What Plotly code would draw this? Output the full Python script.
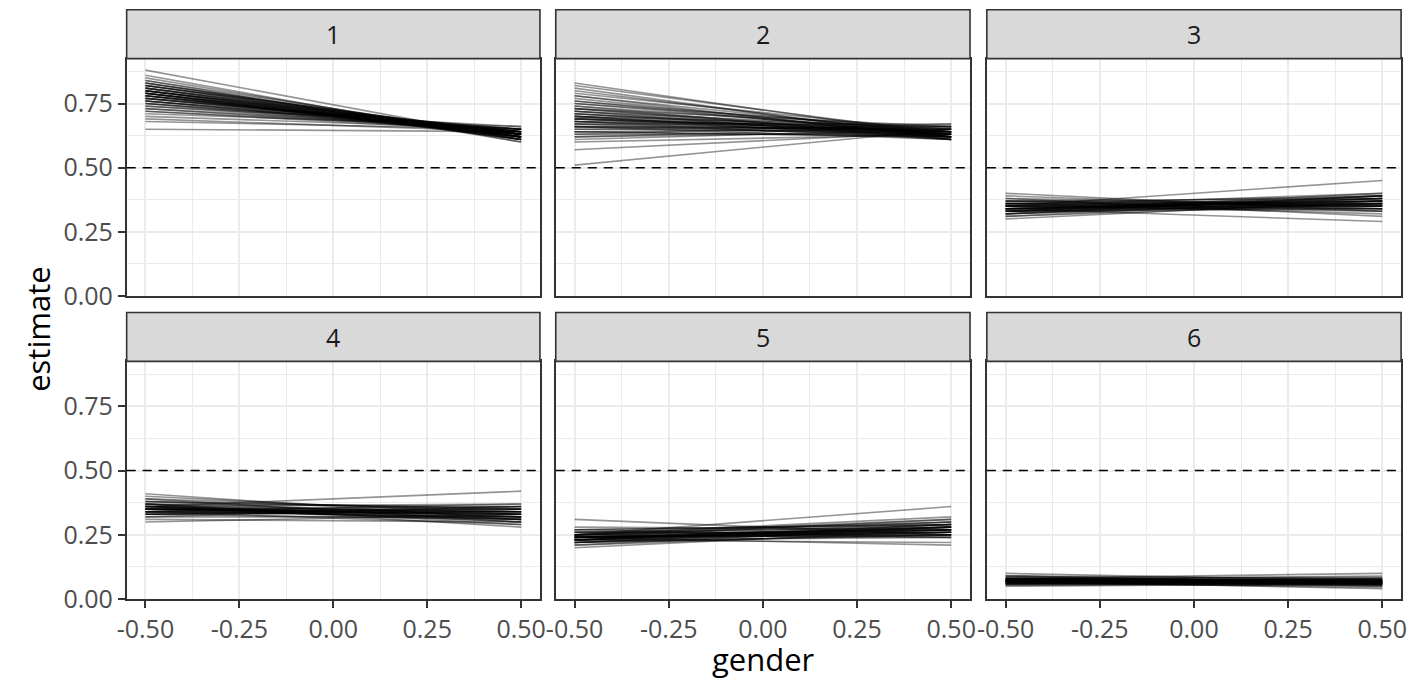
import plotly.graph_objects as go

# Posterior draws of the estimate at gender = -0.5 and gender = 0.5, one list per facet
gender_ends = [-0.5, 0.5]

p1_start = [0.88, 0.86, 0.85, 0.84, 0.84, 0.83, 0.83, 0.82, 0.82, 0.82, 0.81, 0.81, 0.81, 0.80, 0.80,
            0.80, 0.80, 0.79, 0.79, 0.79, 0.79, 0.78, 0.78, 0.78, 0.78, 0.77, 0.77, 0.77, 0.76, 0.76,
            0.76, 0.75, 0.75, 0.75, 0.74, 0.74, 0.73, 0.73, 0.72, 0.72, 0.71, 0.70, 0.69, 0.68, 0.65,
            0.80, 0.79, 0.77, 0.81, 0.78, 0.82, 0.79, 0.80, 0.76, 0.83]
p1_end = [0.61, 0.60, 0.61, 0.60, 0.62, 0.61, 0.62, 0.61, 0.62, 0.63, 0.61, 0.62, 0.63, 0.62, 0.63,
          0.61, 0.64, 0.62, 0.63, 0.64, 0.62, 0.63, 0.64, 0.62, 0.63, 0.64, 0.63, 0.65, 0.63, 0.64,
          0.65, 0.64, 0.63, 0.65, 0.64, 0.66, 0.64, 0.65, 0.65, 0.64, 0.66, 0.65, 0.64, 0.65, 0.64,
          0.63, 0.62, 0.64, 0.63, 0.62, 0.63, 0.61, 0.62, 0.63, 0.62]

p2_start = [0.83, 0.82, 0.81, 0.80, 0.79, 0.78, 0.78, 0.77, 0.76, 0.76, 0.75, 0.75, 0.74, 0.74, 0.73,
            0.73, 0.72, 0.72, 0.72, 0.71, 0.71, 0.70, 0.70, 0.70, 0.69, 0.69, 0.69, 0.68, 0.68, 0.68,
            0.67, 0.67, 0.67, 0.66, 0.66, 0.66, 0.65, 0.65, 0.64, 0.64, 0.63, 0.63, 0.62, 0.62, 0.61,
            0.60, 0.57, 0.51, 0.71, 0.68, 0.70, 0.66, 0.73, 0.69, 0.64]
p2_end = [0.62, 0.63, 0.61, 0.62, 0.64, 0.61, 0.63, 0.62, 0.64, 0.62, 0.63, 0.65, 0.61, 0.64, 0.62,
          0.66, 0.63, 0.65, 0.61, 0.64, 0.62, 0.63, 0.66, 0.61, 0.64, 0.62, 0.65, 0.63, 0.61, 0.66,
          0.64, 0.62, 0.67, 0.63, 0.65, 0.61, 0.64, 0.66, 0.62, 0.65, 0.63, 0.67, 0.64, 0.66, 0.65,
          0.63, 0.64, 0.65, 0.63, 0.64, 0.62, 0.65, 0.63, 0.64, 0.62]

p3_start = [0.40, 0.39, 0.38, 0.38, 0.37, 0.37, 0.37, 0.36, 0.36, 0.36, 0.36, 0.35, 0.35, 0.35, 0.35,
            0.35, 0.34, 0.34, 0.34, 0.34, 0.34, 0.34, 0.33, 0.33, 0.33, 0.33, 0.33, 0.32, 0.32, 0.32,
            0.31, 0.31, 0.30, 0.35, 0.36, 0.34, 0.33, 0.37, 0.35, 0.34, 0.36, 0.33, 0.35, 0.34, 0.32]
p3_end = [0.33, 0.34, 0.31, 0.35, 0.33, 0.36, 0.38, 0.34, 0.37, 0.35, 0.39, 0.36, 0.34, 0.38, 0.33,
          0.37, 0.35, 0.39, 0.36, 0.34, 0.38, 0.37, 0.36, 0.40, 0.35, 0.38, 0.34, 0.37, 0.39, 0.36,
          0.38, 0.36, 0.37, 0.45, 0.32, 0.29, 0.39, 0.35, 0.40, 0.37, 0.36, 0.38, 0.35, 0.37, 0.39]

p4_start = [0.41, 0.40, 0.39, 0.39, 0.38, 0.38, 0.37, 0.37, 0.37, 0.36, 0.36, 0.36, 0.36, 0.35, 0.35,
            0.35, 0.35, 0.35, 0.34, 0.34, 0.34, 0.34, 0.33, 0.33, 0.33, 0.32, 0.32, 0.31, 0.30, 0.36,
            0.37, 0.35, 0.34, 0.38, 0.36, 0.35, 0.33, 0.36, 0.34, 0.37, 0.35, 0.36, 0.34, 0.33, 0.35]
p4_end = [0.31, 0.33, 0.30, 0.34, 0.32, 0.35, 0.33, 0.31, 0.36, 0.34, 0.32, 0.37, 0.30, 0.35, 0.33,
          0.31, 0.36, 0.34, 0.32, 0.37, 0.29, 0.33, 0.35, 0.31, 0.34, 0.32, 0.36, 0.30, 0.33, 0.42,
          0.28, 0.34, 0.32, 0.35, 0.30, 0.33, 0.36, 0.31, 0.34, 0.29, 0.33, 0.32, 0.35, 0.34, 0.31]

p5_start = [0.31, 0.28, 0.27, 0.27, 0.26, 0.26, 0.26, 0.25, 0.25, 0.25, 0.25, 0.24, 0.24, 0.24, 0.24,
            0.24, 0.23, 0.23, 0.23, 0.23, 0.23, 0.22, 0.22, 0.22, 0.21, 0.21, 0.20, 0.25, 0.24, 0.23,
            0.26, 0.24, 0.22, 0.25, 0.23, 0.24, 0.27, 0.23, 0.25, 0.24, 0.22, 0.24, 0.23, 0.25, 0.24]
p5_end = [0.25, 0.27, 0.24, 0.29, 0.26, 0.28, 0.25, 0.30, 0.27, 0.24, 0.29, 0.26, 0.28, 0.31, 0.25,
          0.27, 0.29, 0.24, 0.26, 0.28, 0.30, 0.25, 0.27, 0.29, 0.26, 0.28, 0.27, 0.36, 0.21, 0.22,
          0.30, 0.27, 0.25, 0.32, 0.28, 0.26, 0.29, 0.27, 0.31, 0.25, 0.28, 0.26, 0.29, 0.27, 0.28]

p6_start = [0.10, 0.09, 0.09, 0.09, 0.08, 0.08, 0.08, 0.08, 0.08, 0.08, 0.075, 0.075, 0.075, 0.075,
            0.07, 0.07, 0.07, 0.07, 0.07, 0.07, 0.07, 0.065, 0.065, 0.065, 0.065, 0.06, 0.06, 0.06,
            0.06, 0.055, 0.055, 0.05, 0.08, 0.07, 0.075, 0.065, 0.07, 0.08, 0.06, 0.07, 0.085, 0.075,
            0.065, 0.07, 0.06]
p6_end = [0.07, 0.06, 0.08, 0.065, 0.07, 0.055, 0.075, 0.06, 0.08, 0.065, 0.07, 0.06, 0.075, 0.05,
          0.065, 0.08, 0.06, 0.07, 0.055, 0.075, 0.065, 0.07, 0.06, 0.08, 0.05, 0.065, 0.075, 0.06,
          0.07, 0.055, 0.065, 0.06, 0.10, 0.04, 0.09, 0.045, 0.07, 0.085, 0.06, 0.07, 0.065, 0.075,
          0.06, 0.07, 0.055]

facet_labels = ["1", "2", "3", "4", "5", "6"]
facet_starts = [p1_start, p2_start, p3_start, p4_start, p5_start, p6_start]
facet_ends = [p1_end, p2_end, p3_end, p4_end, p5_end, p6_end]

x_tickvals = [-0.5, -0.25, 0.0, 0.25, 0.5]
x_ticktext = ["-0.50", "-0.25", "0.00", "0.25", "0.50"]
y_tickvals = [0.0, 0.25, 0.5, 0.75]
y_ticktext = ["0.00", "0.25", "0.50", "0.75"]
reference_level = 0.5

W, H = 1415, 689
col_px = [(118, 536), (552, 971), (988, 1407)]
row_px = [(60, 303), (370, 613.3)]      # plot area, top/bottom in pixels
strip_px = [(10, 60), (320, 370)]

FONT = "Open Sans"
BORDER = "#333333"
GRID = "#EBEBEB"
TICK_SIZE = 25
TITLE_SIZE = 31

fig = go.Figure()
layout = {}
shapes = []
annotations = []

for i in range(6):
    r, c = divmod(i, 3)
    n = "" if i == 0 else str(i + 1)
    xa, ya = "x" + n, "y" + n
    x0p, x1p = col_px[c]
    t, b = row_px[r]
    layout["xaxis" + n] = dict(
        domain=[x0p / W, x1p / W], anchor=ya, range=[-0.55, 0.55],
        tickvals=x_tickvals, ticktext=x_ticktext,
        showticklabels=(r == 1), ticks="outside" if r == 1 else "",
        ticklen=7, tickwidth=1.6, tickcolor=BORDER,
        tickfont=dict(family=FONT, size=TICK_SIZE, color="#4D4D4D"),
        showgrid=True, gridcolor=GRID, gridwidth=1.6,
        minor=dict(tick0=0, dtick=0.125, showgrid=True, gridcolor=GRID, gridwidth=0.8),
        showline=True, mirror=True, linecolor=BORDER, linewidth=1.6,
        zeroline=False, fixedrange=True,
    )
    layout["yaxis" + n] = dict(
        domain=[1 - b / H, 1 - t / H], anchor=xa, range=[0, 0.925],
        tickvals=y_tickvals, ticktext=y_ticktext,
        showticklabels=(c == 0), ticks="outside" if c == 0 else "",
        ticklen=7, tickwidth=1.6, tickcolor=BORDER,
        tickfont=dict(family=FONT, size=TICK_SIZE, color="#4D4D4D"),
        showgrid=True, gridcolor=GRID, gridwidth=1.6,
        minor=dict(tick0=0, dtick=0.125, showgrid=True, gridcolor=GRID, gridwidth=0.8),
        showline=True, mirror=True, linecolor=BORDER, linewidth=1.6,
        zeroline=False, fixedrange=True,
    )

    for s, e in zip(facet_starts[i], facet_ends[i]):
        fig.add_trace(go.Scatter(
            x=gender_ends, y=[s, e], mode="lines", xaxis=xa, yaxis=ya,
            line=dict(color="rgba(0,0,0,0.42)", width=1.6),
            showlegend=False, hoverinfo="skip",
        ))

    # horizontal reference line
    shapes.append(dict(
        type="line", xref=xa + " domain", yref=ya, x0=0, x1=1,
        y0=reference_level, y1=reference_level,
        line=dict(color="black", width=1.5, dash="9px,7px"), layer="above",
    ))

    # facet strip
    st, sb = strip_px[r]
    shapes.append(dict(
        type="rect", xref="paper", yref="paper",
        x0=x0p / W, x1=x1p / W, y0=1 - sb / H, y1=1 - st / H,
        fillcolor="#D9D9D9", line=dict(color=BORDER, width=1.6), layer="above",
    ))
    annotations.append(dict(
        text=facet_labels[i], xref="paper", yref="paper",
        x=(x0p + x1p) / 2 / W, y=1 - (st + sb) / 2 / H,
        showarrow=False, xanchor="center", yanchor="middle",
        font=dict(family=FONT, size=TICK_SIZE, color="#1A1A1A"),
    ))

annotations.append(dict(
    text="gender", xref="paper", yref="paper", x=(118 + 1407) / 2 / W, y=1 - 675 / H,
    showarrow=False, xanchor="center", yanchor="middle",
    font=dict(family=FONT, size=TITLE_SIZE, color="black"),
))
annotations.append(dict(
    text="estimate", xref="paper", yref="paper", x=29 / W, y=1 - 337 / H,
    showarrow=False, xanchor="center", yanchor="middle", textangle=-90,
    font=dict(family=FONT, size=TITLE_SIZE, color="black"),
))

fig.update_layout(
    **layout,
    width=W, height=H,
    margin=dict(l=0, r=0, t=0, b=0),
    paper_bgcolor="white", plot_bgcolor="white",
    shapes=shapes, annotations=annotations,
    showlegend=False,
)

fig.write_html("out.html", config={"displayModeBar": False})
